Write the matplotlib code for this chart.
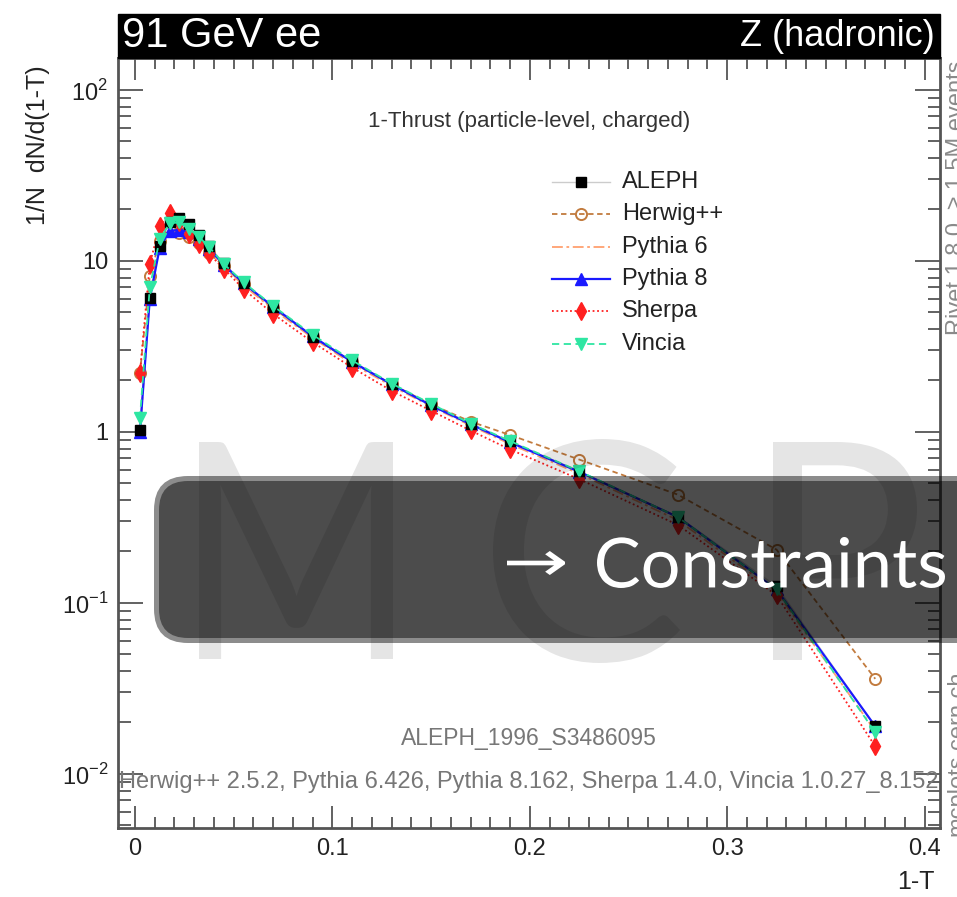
import matplotlib
matplotlib.use("Agg")
import matplotlib.pyplot as plt
from matplotlib.ticker import FixedLocator, FixedFormatter, MultipleLocator, LogLocator, NullFormatter
from matplotlib.patches import Rectangle, FancyBboxPatch, PathPatch
from matplotlib.textpath import TextPath
from matplotlib.font_manager import FontProperties
from matplotlib.transforms import Affine2D
from matplotlib.lines import Line2D

plt.rcParams['font.family'] = ['Liberation Sans', 'DejaVu Sans']
plt.rcParams['mathtext.fontset'] = 'custom'
plt.rcParams['mathtext.rm'] = 'Liberation Sans'

# --- data (1-T bin centres and normalised distributions) -------------
x = [0.0025, 0.0075, 0.0125, 0.0175, 0.0225, 0.0275, 0.0325, 0.0375, 0.045, 0.055,
     0.07, 0.09, 0.11, 0.13, 0.15, 0.17, 0.19, 0.225, 0.275, 0.325, 0.375]
aleph = [1.03, 6.1, 12.2, 17.0, 17.8, 16.5, 14.2, 12.2, 9.7, 7.4,
         5.35, 3.6, 2.6, 1.9, 1.45, 1.12, 0.88, 0.59, 0.32, 0.125, 0.019]
herwig = [2.2, 8.2, 13.0, 15.2, 14.6, 13.8, 12.7, 11.2, 9.3, 7.3,
          5.3, 3.6, 2.55, 1.9, 1.45, 1.15, 0.96, 0.69, 0.43, 0.205, 0.036]
pythia6 = [0.96, 6.3, 12.3, 15.0, 14.8, 14.0, 12.8, 11.3, 9.2, 7.2,
           5.2, 3.55, 2.5, 1.86, 1.41, 1.09, 0.85, 0.57, 0.305, 0.116, 0.0178]
pythia8 = [1.0, 6.0, 11.9, 15.0, 15.2, 14.7, 13.4, 11.8, 9.5, 7.4,
           5.4, 3.62, 2.57, 1.9, 1.43, 1.11, 0.87, 0.585, 0.318, 0.12, 0.019]
sherpa = [2.2, 9.6, 16.0, 19.0, 16.8, 14.4, 12.6, 11.0, 9.0, 6.85,
          4.9, 3.35, 2.38, 1.74, 1.33, 1.02, 0.79, 0.53, 0.286, 0.111, 0.0145]
vincia = [1.2, 7.0, 13.4, 16.6, 16.8, 15.4, 13.8, 12.1, 9.6, 7.5,
          5.45, 3.7, 2.62, 1.92, 1.46, 1.12, 0.885, 0.59, 0.318, 0.12, 0.0175]

y_ticks = [1e-2, 1e-1, 1, 10, 100]
y_ticklabels = ['$10^{-2}$', '$10^{-1}$', '1', '10', '$10^{2}$']
x_ticks = [0, 0.1, 0.2, 0.3, 0.4]
x_ticklabels = ['0', '0.1', '0.2', '0.3', '0.4']

W, H = 957, 897
fig = plt.figure(figsize=(W / 100, H / 100), dpi=100)
px = Affine2D().scale(1 / W, 1 / H) + fig.transFigure   # pixel coords, y up


def fy(y):  # pixel row from top -> y up
    return H - y


ax = fig.add_axes([118 / W, 1 - 828 / H, (940 - 118) / W, (828 - 58) / H])
ax.set_yscale('log')
ax.set_xlim(-0.0086, 0.4078)
ax.set_ylim(0.00483, 153.8)

series = [
    ("Herwig++", herwig, dict(color='#c27b3e', ls=(0, (3, 2)), marker='o', mfc='none',
                               mec='#c27b3e', ms=8, mew=1.4, lw=1.3, zorder=2)),
    ("Pythia 6", pythia6, dict(color='#ffa070', ls=(0, (6, 2, 1.5, 2)), lw=1.3, zorder=2)),
    ("Pythia 8", pythia8, dict(color='#1a1aff', ls='-', marker='^', ms=8, lw=1.6, zorder=2)),
    ("Sherpa", sherpa, dict(color='#ff2020', ls=(0, (1, 1.5)), marker='d', ms=9, lw=1.3, zorder=2)),
]
ax.plot(x, aleph, color='#cccccc', lw=1.0, zorder=1)
for name, vals, kw in series:
    ax.plot(x, vals, **kw)
ax.plot(x, aleph, ls='none', marker='s', color='black', ms=7, zorder=3)
ax.plot(x, vincia, color='#2ee6a2', ls=(0, (4, 2.5)), marker='v', ms=8, lw=1.3, zorder=4)

ax.xaxis.set_major_locator(FixedLocator(x_ticks))
ax.xaxis.set_major_formatter(FixedFormatter(x_ticklabels))
ax.xaxis.set_minor_locator(MultipleLocator(0.01))
ax.yaxis.set_major_locator(FixedLocator(y_ticks))
ax.yaxis.set_major_formatter(FixedFormatter(y_ticklabels))
ax.yaxis.set_minor_locator(LogLocator(base=10, subs=range(2, 10)))
ax.yaxis.set_minor_formatter(NullFormatter())
ax.tick_params(which='both', direction='in', top=True, right=True, color='#555555',
               width=1.3, labelsize=17, labelcolor='#222222', pad=7)
ax.tick_params(axis='x', which='major', length=16)
ax.tick_params(axis='x', which='minor', length=8)
ax.tick_params(axis='y', which='major', length=18)
ax.tick_params(axis='y', which='minor', length=9)
for sp in ax.spines.values():
    sp.set_color('#555555')
    sp.set_linewidth(2)

ax.text(0.5, (fy(122) - (H - 828)) / 770, "1-Thrust (particle-level, charged)", transform=ax.transAxes,
        ha='center', va='center', fontsize=16, color='#333333')
ax.text(0.5, (fy(738) - (H - 828)) / 770, "ALEPH_1996_S3486095", transform=ax.transAxes,
        ha='center', va='center', fontsize=16.5, color='#777777')
ax.text(0.5, (fy(782) - (H - 828)) / 770,
        "Herwig++ 2.5.2, Pythia 6.426, Pythia 8.162, Sherpa 1.4.0, Vincia 1.0.27_8.152",
        transform=ax.transAxes, ha='center', va='center', fontsize=17, color='#777777')

# legend drawn by hand, ROOT-style
legend = [("ALEPH", dict(color='#cccccc', ls='-', marker='s', mfc='black', mec='black', ms=7, lw=1.0))]
legend += [(n, k) for n, _, k in series]
legend += [("Vincia", dict(color='#2ee6a2', ls=(0, (4, 2.5)), marker='v', ms=8, lw=1.3))]
for i, (name, kw) in enumerate(legend):
    yy = fy(182 + 32.3 * i)
    kw = {k: v for k, v in kw.items() if k != 'zorder'}
    mk = {k: kw.pop(k) for k in ['marker', 'mfc', 'mec', 'ms', 'mew'] if k in kw}
    fig.add_artist(Line2D([552, 610], [yy, yy], transform=px, **kw))
    if mk:
        fig.add_artist(Line2D([581], [yy], transform=px, ls='none', color=kw['color'], **mk))
    fig.text(622 / W, yy / H, name, ha='left', va='center', fontsize=17, color='#222222')

# axis titles
fig.text(38 / W, fy(145) / H, "1/N  dN/d(1-T)", rotation=90, ha='center', va='center',
         fontsize=18, color='#222222')
fig.text(935 / W, fy(882) / H, "1-T", ha='right', va='center', fontsize=18, color='#222222')

# banner
fig.add_artist(Rectangle((118, fy(58)), 822, 44, transform=px, color='black', zorder=1))
fig.text(122 / W, fy(36) / H, "91 GeV ee", ha='left', va='center', fontsize=30, color='white')
fig.text(935 / W, fy(36) / H, "Z (hadronic)", ha='right', va='center', fontsize=26, color='white')

# side notes (cut by the right edge, as in the slide)
fig.text(946 / W, fy(335) / H, "Rivet 1.8.0, \u2265 1.5M events", rotation=90, ha='left',
         va='bottom', fontsize=17, color='#8a8a8a')
fig.text(946 / W, fy(836) / H, "mcplots.cern.ch", rotation=90, ha='left', va='bottom',
         fontsize=17, color='#8a8a8a')

# slide overlay: dark box, MCP watermark, caption
fig.add_artist(FancyBboxPatch((154, fy(643)), 900, 167, boxstyle="round,pad=0,rounding_size=34",
                              transform=px, fc=(0, 0, 0, 0.45), ec='none', zorder=5))
fig.add_artist(FancyBboxPatch((159, fy(638)), 900, 157, boxstyle="round,pad=0,rounding_size=29",
                              transform=px, fc=(0, 0, 0, 0.455), ec='none', zorder=5))


def glyphs(s, x0, x1, ytop, ybot, family, color, alpha, zorder):
    tp = TextPath((0, 0), s, size=100, prop=FontProperties(family=family))
    ext = tp.get_extents()
    tr = (Affine2D().translate(-ext.x0, -ext.y0)
          .scale((x1 - x0) / ext.width, (ybot - ytop) / ext.height)
          .translate(x0, fy(ybot)) + px)
    fig.add_artist(PathPatch(tp, transform=tr, fc=color, ec='none', alpha=alpha, zorder=zorder))


glyphs("M", 199, 393, 442, 659, 'Lato', 'black', 0.1, 6)
glyphs("C", 493, 680, 439, 663, 'Lato', 'black', 0.1, 6)
glyphs("P", 773, 917, 442, 660, 'Lato', 'black', 0.1, 6)
glyphs("\u2192", 507, 565, 551, 575, 'DejaVu Sans', 'white', 1, 7)
glyphs("Constraints", 597, 945, 537, 588, 'Lato', 'white', 1, 7)

fig.savefig("out.png", dpi=100)
